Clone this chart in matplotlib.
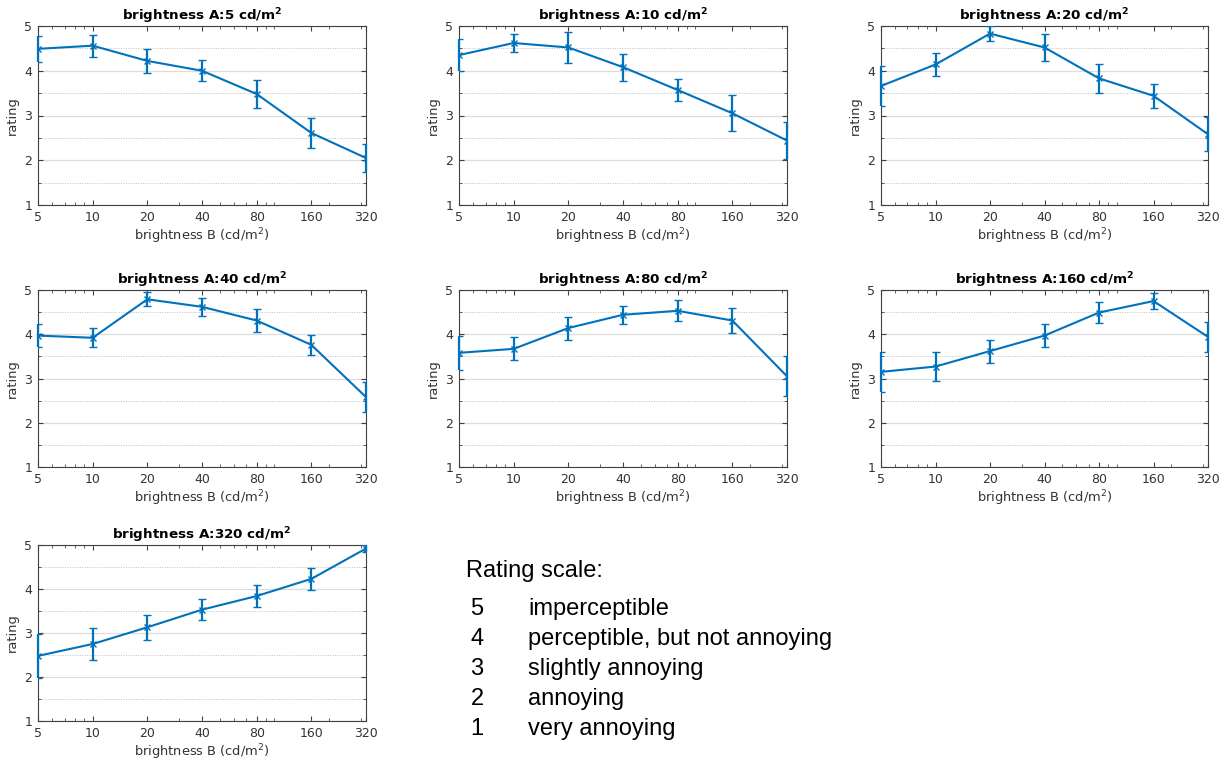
import matplotlib
matplotlib.use("Agg")
import matplotlib.pyplot as plt
from matplotlib.ticker import FixedLocator, NullFormatter, LogLocator, MultipleLocator

brightness_b = [5, 10, 20, 40, 80, 160, 320]
brightness_a = [5, 10, 20, 40, 80, 160, 320]

mean_a5 = [4.49, 4.56, 4.22, 4.00, 3.48, 2.61, 2.05]
err_a5 = [0.29, 0.25, 0.27, 0.24, 0.32, 0.34, 0.31]
mean_a10 = [4.35, 4.62, 4.52, 4.08, 3.57, 3.05, 2.44]
err_a10 = [0.35, 0.20, 0.35, 0.30, 0.25, 0.40, 0.41]
mean_a20 = [3.66, 4.14, 4.83, 4.52, 3.83, 3.44, 2.58]
err_a20 = [0.44, 0.26, 0.16, 0.30, 0.32, 0.27, 0.38]
mean_a40 = [3.97, 3.92, 4.79, 4.62, 4.31, 3.76, 2.58]
err_a40 = [0.26, 0.21, 0.16, 0.20, 0.26, 0.22, 0.33]
mean_a80 = [3.58, 3.67, 4.14, 4.44, 4.53, 4.31, 3.05]
err_a80 = [0.39, 0.26, 0.26, 0.20, 0.24, 0.28, 0.45]
mean_a160 = [3.15, 3.27, 3.62, 3.97, 4.49, 4.75, 3.94]
err_a160 = [0.46, 0.33, 0.26, 0.26, 0.24, 0.18, 0.33]
mean_a320 = [2.48, 2.75, 3.13, 3.53, 3.84, 4.23, 4.92]
err_a320 = [0.50, 0.37, 0.29, 0.24, 0.26, 0.25, 0.08]

means = [mean_a5, mean_a10, mean_a20, mean_a40, mean_a80, mean_a160, mean_a320]
errs = [err_a5, err_a10, err_a20, err_a40, err_a80, err_a160, err_a320]

scale_numbers = ["5", "4", "3", "2", "1"]
scale_labels = ["imperceptible", "perceptible, but not annoying",
                "slightly annoying", "annoying", "very annoying"]

plt.rcParams['font.family'] = ['DejaVu Sans']
fig = plt.figure(figsize=(12.25, 7.6), dpi=100)

W, H = 1225, 760
col_x = [(38, 366), (459, 787), (881, 1208)]
row_y = [(26, 205), (290, 467), (545, 721)]

line_color = '#0072BD'
axis_color = '#404040'

for i, a in enumerate(brightness_a):
    r, c = divmod(i, 3)
    x0, x1 = col_x[c]
    y0, y1 = row_y[r]
    ax = fig.add_axes([x0 / W, 1 - y1 / H, (x1 - x0) / W, (y1 - y0) / H])
    eb = ax.errorbar(brightness_b, means[i], yerr=errs[i], color=line_color,
                     lw=1.5, elinewidth=1.6, capsize=3, capthick=1.3,
                     marker='x', markersize=4, markeredgewidth=1.0, zorder=3)
    for bl in eb[2]:
        bl.set_clip_on(False)
    ax.set_xscale('log')
    ax.set_xlim(5, 320)
    ax.set_ylim(1, 5)
    ax.xaxis.set_major_locator(FixedLocator(brightness_b))
    ax.set_xticklabels([str(v) for v in brightness_b])
    ax.xaxis.set_minor_locator(LogLocator(base=10, subs=range(1, 10)))
    ax.xaxis.set_minor_formatter(NullFormatter())
    ax.yaxis.set_major_locator(MultipleLocator(1))
    ax.yaxis.set_minor_locator(MultipleLocator(0.5))
    ax.yaxis.grid(True, which='major', color='#dcdcdc', lw=0.9, ls='-')
    ax.yaxis.grid(True, which='minor', color='#c0c0c0', lw=0.7, ls=(0, (1, 1.5)))
    ax.set_axisbelow(True)
    ax.tick_params(which='both', direction='in', top=True, right=True,
                   colors=axis_color, labelsize=9, labelcolor='#333333')
    ax.tick_params(axis='x', which='major', length=3.5, pad=4.5)
    ax.tick_params(axis='y', which='major', length=3.5, pad=4)
    ax.tick_params(which='minor', length=2)
    for s in ax.spines.values():
        s.set_color(axis_color)
        s.set_linewidth(0.8)
    ax.set_title(f"brightness A:{a} cd/m$^\\mathbf{{2}}$", fontsize=9.7,
                 fontweight='bold', pad=3)
    ax.set_xlabel("brightness B (cd/m$^2$)", fontsize=9.4, color='#333333',
                  labelpad=1.5)
    ax.set_ylabel("rating", fontsize=9.4, color='#333333', labelpad=4)

tf = ['Liberation Sans', 'DejaVu Sans']
fig.text(466 / W, 1 - 577 / H, "Rating scale:", fontsize=17, family=tf,
         va='baseline', ha='left')
for k, (n, lab) in enumerate(zip(scale_numbers, scale_labels)):
    yy = 1 - (615 + 30 * k) / H
    fig.text(477 / W, yy, n, fontsize=17, family=tf, va='baseline', ha='center')
    fig.text(528 / W, yy, lab, fontsize=17, family=tf, va='baseline', ha='left')

fig.savefig("out.png", dpi=100, facecolor='white')
